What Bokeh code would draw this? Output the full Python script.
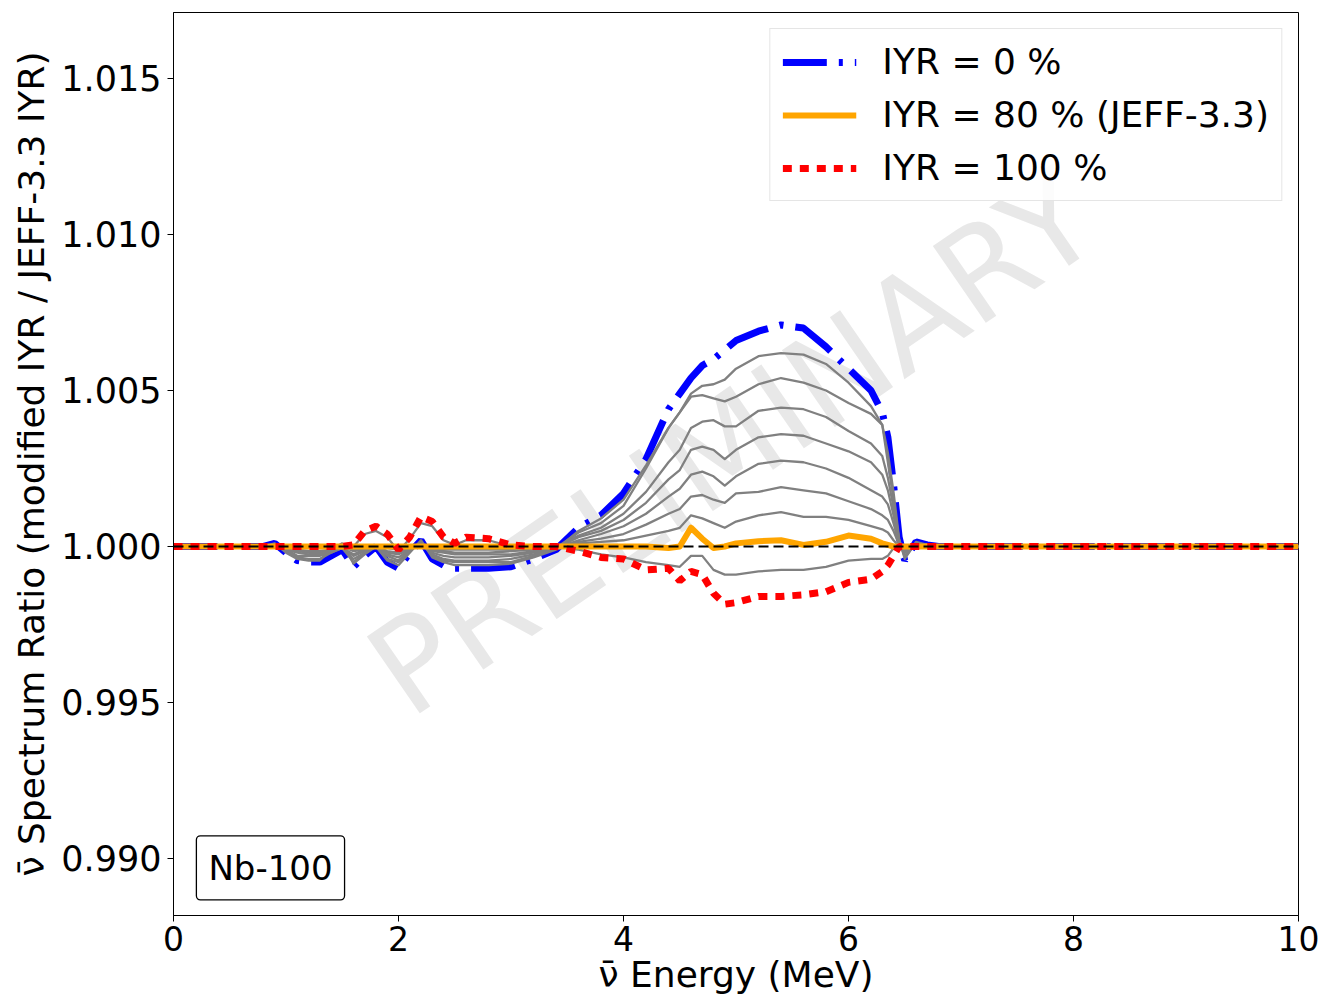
from bokeh.plotting import figure
from bokeh.models import Range1d, FixedTicker, PrintfTickFormatter, Span, Label, Legend, LegendItem
from bokeh.embed import file_html
from bokeh.resources import INLINE

# Antineutrino energy grid (MeV)
energy = [0.0, 0.8, 0.9, 1.0, 1.1, 1.2, 1.3, 1.4, 1.5, 1.6,
          1.7, 1.8, 1.9, 2.0, 2.1, 2.2, 2.3, 2.4, 2.5, 2.6,
          2.8, 3.0, 3.2, 3.4, 3.6, 3.8, 4.0, 4.2, 4.4, 4.5,
          4.6, 4.7, 4.8, 4.9, 5.0, 5.2, 5.4, 5.6, 5.8, 6.0,
          6.2, 6.3, 6.35, 6.4, 6.45, 6.5, 6.6, 6.7, 6.8, 10.0]

# spectrum ratios for each isomeric yield ratio (IYR)
iyr_0 = [1.0, 1.0, 1.0001, 0.9998, 0.99955, 0.9995, 0.9995, 0.9997, 0.9999, 0.99935,
         0.9997, 1.0, 0.9995, 0.9993, 0.9998, 1.0002, 0.9996, 0.9994, 0.9993, 0.9993,
         0.9993, 0.99935, 0.9996, 0.9999, 1.0006, 1.001, 1.0017, 1.0028, 1.0044, 1.0049,
         1.0054, 1.0058, 1.006, 1.0063, 1.0066, 1.0069, 1.0071, 1.007, 1.0064, 1.0057,
         1.005, 1.0043, 1.0035, 1.002, 1.0003, 0.99955, 1.00015, 1.00005, 1.0, 1.0]
iyr_10 = [1.0, 1.0, 1.0001, 0.9998, 0.9996, 0.99955, 0.99955, 0.9999, 1.0001, 0.99945,
          0.99975, 1.0, 0.99955, 0.9994, 0.9998, 1.0002, 0.99965, 0.9995, 0.9994, 0.9994,
          0.9994, 0.99945, 0.99965, 0.9999, 1.0005, 1.0009, 1.0015, 1.0026, 1.0038, 1.0043,
          1.0049, 1.00515, 1.0052, 1.00535, 1.0057, 1.0061, 1.0062, 1.00615, 1.00585, 1.00525,
          1.0045, 1.0039, 1.003, 1.00175, 1.00025, 0.9996, 1.00015, 1.00005, 1.0, 1.0]
iyr_20 = [1.0, 1.0, 1.00005, 0.99985, 0.99965, 0.9996, 0.9996, 0.9998, 0.99995, 0.9995,
          0.9998, 1.0, 0.9996, 0.9995, 0.99985, 1.00015, 0.9997, 0.99955, 0.9995, 0.9995,
          0.9995, 0.9995, 0.9997, 0.99995, 1.00045, 1.00075, 1.0013, 1.0025, 1.0038, 1.0043,
          1.0048, 1.00485, 1.00475, 1.00465, 1.0048, 1.0052, 1.0054, 1.00525, 1.005, 1.0046,
          1.00425, 1.0039, 1.0027, 1.0015, 1.0002, 0.99965, 1.0001, 1.00005, 1.0, 1.0]
iyr_30 = [1.0, 1.0, 1.00005, 0.9999, 0.9997, 0.9997, 0.9997, 0.9998, 0.99995, 0.9996,
          0.9998, 1.0, 0.9997, 0.99955, 0.9999, 1.0001, 0.99975, 0.9996, 0.99955, 0.99955,
          0.99955, 0.9996, 0.99975, 0.99995, 1.00035, 1.0006, 1.00105, 1.00175, 1.0027, 1.0031,
          1.0038, 1.004, 1.00405, 1.00385, 1.00385, 1.00435, 1.00445, 1.0044, 1.00415, 1.0037,
          1.0033, 1.0029, 1.0022, 1.00125, 1.0002, 0.9997, 1.0001, 1.00005, 1.0, 1.0]
iyr_40 = [1.0, 1.0, 1.00005, 0.9999, 0.9998, 0.99975, 0.99975, 0.99985, 0.99995, 0.9997,
          0.99985, 1.0, 0.99975, 0.99965, 0.9999, 1.0001, 0.9998, 0.9997, 0.99965, 0.99965,
          0.99965, 0.9997, 0.9998, 0.99995, 1.0003, 1.0005, 1.00085, 1.0014, 1.00215, 1.00245,
          1.0031, 1.0032, 1.0031, 1.0028, 1.0031, 1.0035, 1.0036, 1.00355, 1.0033, 1.00305,
          1.0027, 1.0023, 1.0018, 1.001, 1.00015, 0.9998, 1.00005, 1.0, 1.0, 1.0]
iyr_50 = [1.0, 1.0, 1.00005, 0.9999, 0.99985, 0.9998, 0.9998, 0.9999, 0.99995, 0.99975,
          0.9999, 1.0, 0.9998, 0.99975, 0.9999, 1.00005, 0.99985, 0.9998, 0.99975, 0.99975,
          0.99975, 0.99975, 0.99985, 0.99995, 1.0002, 1.0004, 1.00065, 1.00105, 1.0016, 1.00185,
          1.0023, 1.0024, 1.00225, 1.00195, 1.00225, 1.00265, 1.00275, 1.0027, 1.0025, 1.0022,
          1.0018, 1.0016, 1.00135, 1.00075, 1.0001, 0.99985, 1.00005, 1.0, 1.0, 1.0]
iyr_60 = [1.0, 1.0, 1.0, 0.99995, 0.9999, 0.99985, 0.99985, 0.9999, 1.0, 0.99985,
          0.9999, 1.0, 0.99985, 0.9998, 0.99995, 1.00005, 0.9999, 0.99985, 0.9998, 0.9998,
          0.9998, 0.99985, 0.9999, 1.0, 1.00015, 1.00025, 1.0004, 1.0007, 1.00105, 1.0012,
          1.0016, 1.00165, 1.0015, 1.0014, 1.0017, 1.00175, 1.0019, 1.0018, 1.0017, 1.00145,
          1.0012, 1.001, 1.00085, 1.0005, 1.00005, 0.9999, 1.00005, 1.0, 1.0, 1.0]
iyr_70 = [1.0, 1.0, 1.0, 1.0, 0.99995, 0.99995, 0.99995, 0.99995, 1.0, 0.9999,
          0.99995, 1.0, 0.99995, 0.9999, 1.0, 1.00005, 0.99995, 0.9999, 0.9999, 0.9999,
          0.9999, 0.9999, 0.99995, 1.0, 1.0001, 1.00015, 1.0002, 1.00035, 1.0005, 1.0006,
          1.001, 1.0009, 1.00075, 1.0006, 1.0008, 1.001, 1.0011, 1.00095, 1.00095, 1.00085,
          1.00065, 1.00055, 1.00045, 1.0002, 1.0, 0.99995, 1.0, 1.0, 1.0, 1.0]
iyr_80 = [1.0, 1.0, 1.0, 1.0, 1.0, 1.0, 1.0, 1.0, 1.0, 1.0,
          1.0, 1.0, 1.0, 1.0, 1.0, 1.0, 1.0, 1.0, 1.0, 1.0,
          1.0, 1.0, 1.0, 1.0, 1.0, 1.0, 1.0, 1.0, 0.99995, 1.0,
          1.0006, 1.00025, 0.99995, 1.0, 1.0001, 1.00017, 1.0002, 1.00005, 1.00015, 1.00035,
          1.00025, 1.0001, 1.00005, 1.0, 1.0, 1.0, 1.0, 1.0, 1.0, 1.0]
iyr_90 = [1.0, 1.0, 1.0, 1.0, 1.0, 1.0, 1.0, 1.0, 1.0, 1.0,
          1.0004, 1.0005, 1.0003, 0.99985, 1.00025, 1.00075, 1.00065, 1.0002, 1.00005, 1.0002,
          1.0002, 1.0, 1.0, 1.0, 0.9999, 0.99975, 0.99965, 0.9995, 0.9994, 0.99935,
          0.9997, 0.9997, 0.99925, 0.9991, 0.9991, 0.9992, 0.99925, 0.99925, 0.99935, 0.99955,
          0.9996, 0.9996, 0.9997, 0.99995, 1.0, 0.9999, 1.0, 1.0, 1.0, 1.0]
iyr_100 = [1.0, 1.0, 1.0, 1.0, 1.0, 1.0, 1.0, 1.0, 1.0, 1.00005,
           1.0005, 1.00065, 1.0004, 0.9999, 1.0003, 1.00095, 1.0008, 1.0003, 1.0001, 1.0003,
           1.00025, 1.00005, 1.0, 1.0, 0.99985, 0.99965, 0.9996, 0.99925, 0.9993, 0.9989,
           0.9992, 0.9991, 0.9985, 0.99815, 0.9982, 0.9984, 0.9984, 0.99845, 0.99855, 0.99885,
           0.99895, 0.9992, 0.9994, 0.9997, 1.0, 1.0, 1.0, 1.0, 1.0, 1.0]

gray_series = [iyr_10, iyr_20, iyr_30, iyr_40, iyr_50, iyr_60, iyr_70, iyr_90]

x_ticks = [0, 2, 4, 6, 8, 10]
y_ticks = [0.990, 0.995, 1.000, 1.005, 1.010, 1.015]

FONT = "DejaVu Sans"

p = figure(width=1327, height=1007,
           x_range=Range1d(0, 10), y_range=Range1d(0.988173, 1.017115),
           output_backend="svg", toolbar_location=None,
           min_border_left=173, min_border_right=29,
           min_border_top=12, min_border_bottom=92)
p.xgrid.visible = False
p.ygrid.visible = False
p.outline_line_color = "black"
p.outline_line_width = 1
p.background_fill_color = "white"
p.border_fill_color = "white"

# watermark
wm = Label(x=4.97, y=1.0033, text="PRELIMINARY", angle=34.6, angle_units="deg",
           text_font=FONT, text_font_size="128px", text_color="#e8e8e8",
           text_align="center", text_baseline="middle", level="underlay")
p.add_layout(wm)

r_blue = p.line(energy, iyr_0, line_color="#0000ff", line_width=7,
                line_dash="44 12 4 12")
for s in gray_series:
    p.line(energy, s, line_color="#808080", line_width=2.3, line_join="round")
r_orange = p.line(energy, iyr_80, line_color="#ffa500", line_width=6, line_join="round")
r_red = p.line(energy, iyr_100, line_color="#ff0000", line_width=7, line_dash="9 8")

p.add_layout(Span(location=1.0, dimension="width", line_color="black",
                  line_width=2, line_dash="10 5"))

# axes
for ax in (p.xaxis[0], p.yaxis[0]):
    ax.major_label_text_font = FONT
    ax.axis_label_text_font = FONT
    ax.axis_label_text_font_size = "36px"
    ax.axis_label_text_font_style = "normal"
    ax.major_tick_out = 6
    ax.major_tick_in = 0
    ax.minor_tick_line_color = None
    ax.axis_line_color = "black"
    ax.major_tick_line_color = "black"
    ax.major_label_text_color = "black"
    ax.axis_label_text_color = "black"

p.xaxis.major_label_text_font_size = "33px"
p.yaxis.major_label_text_font_size = "35px"
p.xaxis.ticker = FixedTicker(ticks=x_ticks)
p.yaxis.ticker = FixedTicker(ticks=y_ticks)
p.yaxis.formatter = PrintfTickFormatter(format="%.3f")
p.xaxis.axis_label = "\u03bd\u0304 Energy (MeV)"
p.yaxis.axis_label = "\u03bd\u0304 Spectrum Ratio (modified IYR / JEFF-3.3 IYR)"
p.xaxis.major_label_standoff = 4
p.xaxis.axis_label_standoff = 0
p.yaxis.major_label_standoff = 6
p.yaxis.axis_label_standoff = 6

legend = Legend(items=[LegendItem(label="IYR = 0 %", renderers=[r_blue]),
                       LegendItem(label="IYR = 80 % (JEFF-3.3)", renderers=[r_orange]),
                       LegendItem(label="IYR = 100 %", renderers=[r_red])],
                location="top_right", margin=16, padding=12, spacing=12,
                glyph_width=74, glyph_height=40, label_height=40, label_standoff=26,
                label_text_font=FONT, label_text_font_size="36px",
                label_text_color="black",
                border_line_color="#cccccc", border_line_width=1.5,
                background_fill_color="white", background_fill_alpha=0.85)
p.add_layout(legend)

p.add_layout(Label(x=0.862, y=0.98970, text="Nb-100", text_align="center",
                   text_baseline="middle", text_font=FONT, text_font_size="34px",
                   text_color="black",
                   border_line_color="black", border_line_width=1.3,
                   background_fill_color="white", padding=12, border_radius=4))

open("out.html", "w").write(file_html(p, INLINE))
